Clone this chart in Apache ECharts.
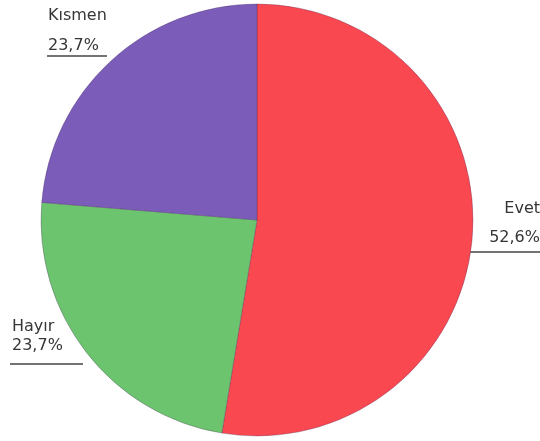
<!DOCTYPE html>
<html>
<head>
<meta charset="utf-8">
<script src="https://cdn.jsdelivr.net/npm/echarts@6/dist/echarts.min.js"></script>
<style>
  html, body { margin: 0; padding: 0; background: #fff; }
  #chart { width: 540px; height: 441px; }
</style>
</head>
<body>
<div id="chart"></div>
<script>
const categories = ['Evet', 'Hayır', 'Kısmen'];
const values = [52.6, 23.7, 23.7];
const colors = ['#f94850', '#6cc46e', '#7b5cb8'];

// label placement: anchor x/y, alignment, line height, underline from..to at y
const labelPlaces = [
  { x: 540, y: 223, align: 'right', lh: 29, line: [470, 540, 252] },
  { x: 12, y: 336, align: 'left', lh: 19, line: [10, 83, 364] },
  { x: 48, y: 31, align: 'left', lh: 30, line: [47, 107, 56] }
];

const chart = echarts.init(document.getElementById('chart'));

const option = {
  backgroundColor: '#fff',
  animation: false,
  series: [
    {
      type: 'pie',
      center: [257, 220],
      radius: 216,
      startAngle: 90,
      clockwise: true,
      data: categories.map((name, i) => ({
        name: name,
        value: values[i],
        itemStyle: { color: colors[i] },
        label: { lineHeight: labelPlaces[i].lh }
      })),
      itemStyle: {
        borderColor: 'rgba(70,40,90,0.3)',
        borderWidth: 1
      },
      label: {
        show: true,
        position: 'outside',
        overflow: 'none',
        fontFamily: '"DejaVu Sans"',
        fontSize: 16,
        color: '#363636',
        formatter: (p) => p.name + '\n' + p.value.toFixed(1).replace('.', ',') + '%'
      },
      labelLine: {
        show: true,
        lineStyle: { color: '#444', width: 1.5 }
      },
      labelLayout: (params) => {
        const lp = labelPlaces[params.dataIndex];
        return {
          x: lp.x,
          y: lp.y,
          align: lp.align,
          verticalAlign: 'middle',
          labelLinePoints: [
            [lp.line[0], lp.line[2]],
            [(lp.line[0] + lp.line[1]) / 2, lp.line[2]],
            [lp.line[1], lp.line[2]]
          ]
        };
      }
    }
  ]
};

chart.setOption(option);
</script>
</body>
</html>
